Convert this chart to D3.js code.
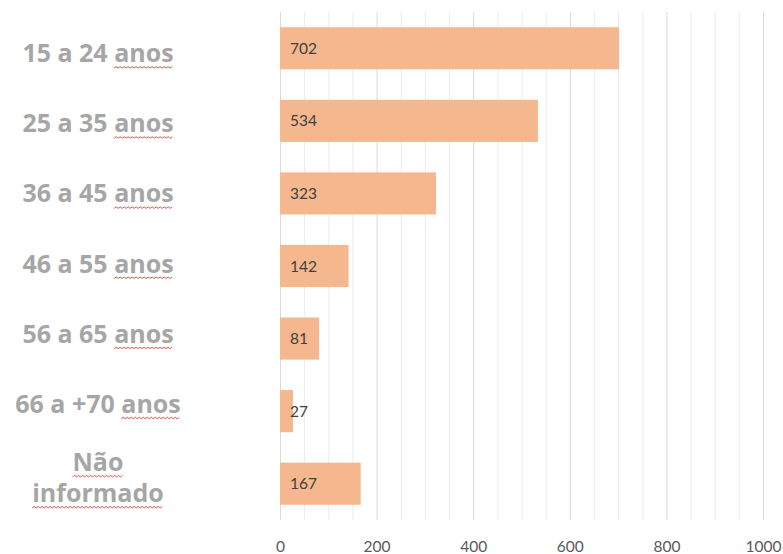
<!DOCTYPE html>
<html><head><meta charset="utf-8">
<script src="https://cdn.jsdelivr.net/npm/d3@7"></script>
<style>body{margin:0;background:#fff;}svg{display:block;}</style>
</head><body>
<script>
const categories = ["15 a 24 anos","25 a 35 anos","36 a 45 anos","46 a 55 anos","56 a 65 anos","66 a +70 anos","Não informado"];
const values = [702,534,323,142,81,27,167];
const tickValues = [0,200,400,600,800,1000];

const W=783,H=554;
const svg=d3.select("body").append("svg").attr("width",W).attr("height",H);
const x=d3.scaleLinear().domain([0,1000]).range([280,763]);
const y=d3.scaleBand().domain(categories).range([12,520]).paddingInner(0.42).paddingOuter(0.21);
// category label positions (axis labels are laid out slightly tighter than the bars)
const yLab=d3.scaleBand().domain(categories).range([18,509]);

// gridlines
const grid=d3.range(0,1001,50);
svg.append("g").selectAll("line").data(grid).join("line")
  .attr("x1",d=>x(d)+0.5).attr("x2",d=>x(d)+0.5).attr("y1",12).attr("y2",520)
  .attr("stroke",d=>d%200===0?"#d9d9d9":"#ebebeb").attr("stroke-width",1);

// bars
svg.append("g").selectAll("rect").data(values).join("rect")
  .attr("x",x(0)).attr("y",(d,i)=>y(categories[i]))
  .attr("width",d=>x(d)-x(0)).attr("height",y.bandwidth())
  .attr("fill","#F4B78E");

// value labels
svg.append("g").selectAll("text").data(values).join("text")
  .attr("x",x(0)+10).attr("y",(d,i)=>y(categories[i])+y.bandwidth()/2+5.5)
  .attr("font-family","Lato, 'Open Sans', sans-serif").attr("font-size",15.5)
  .attr("fill","#404040").text(d=>d);

// x axis labels
const xAxis=d3.axisBottom(x).tickValues(tickValues).tickFormat(d3.format("d")).tickSize(0).tickPadding(0);
const ax=svg.append("g").attr("transform","translate(0,541)").call(xAxis);
ax.select(".domain").remove();
ax.selectAll("text").attr("font-family","Lato, 'Open Sans', sans-serif").attr("font-size",15.5).attr("fill","#595959");

// category labels
function wavy(g,x0,x1,yy){
  let p=`M${x0},${yy}`;
  let up=true;
  for(let xx=x0+2;xx<=x1;xx+=2){p+=`L${xx},${yy+(up?-1.5:0)}`;up=!up;}
  g.append("path").attr("d",p).attr("fill","none").attr("stroke","#e84a4a").attr("stroke-width",1);
}
const lg=svg.append("g");
const font="'Open Sans', Lato, sans-serif";
const fs=25;
categories.forEach((c,i)=>{
  const cy=yLab(c)+yLab.bandwidth()/2;
  if(c==="Não informado"){
    const t1=lg.append("text").attr("x",98).attr("y",cy-3).attr("text-anchor","middle")
      .attr("font-family",font).attr("font-weight","bold").attr("font-size",fs).attr("fill","#a6a6a6").text("Não");
    const t2=lg.append("text").attr("x",98).attr("y",cy+28).attr("text-anchor","middle")
      .attr("font-family",font).attr("font-weight","bold").attr("font-size",fs).attr("fill","#a6a6a6").text("informado");
    let b=t1.node().getBBox(); wavy(lg,b.x,b.x+b.width,cy+3);
    b=t2.node().getBBox(); wavy(lg,b.x,b.x+b.width,cy+34);
  } else {
    const parts=c.split(" anos");
    const t=lg.append("text").attr("x",98).attr("y",cy+9).attr("text-anchor","middle")
      .attr("font-family",font).attr("font-weight","bold").attr("font-size",fs).attr("fill","#a6a6a6");
    t.append("tspan").text(parts[0]+" ");
    const ts=t.append("tspan").text("anos");
    const b=t.node().getBBox();
    const len=ts.node().getComputedTextLength();
    wavy(lg,b.x+b.width-len,b.x+b.width,cy+15);
  }
});
</script>
</body></html>
